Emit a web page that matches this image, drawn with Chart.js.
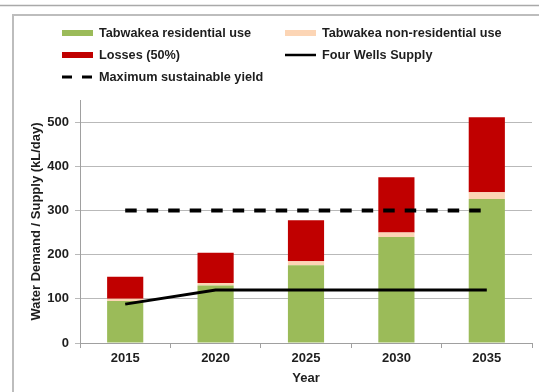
<!DOCTYPE html>
<html>
<head>
<meta charset="utf-8">
<script src="https://cdn.jsdelivr.net/npm/chart.js@4/dist/chart.umd.min.js"></script>
<style>
  html, body { margin: 0; padding: 0; background: #fff; }
  #wrap { position: relative; width: 539px; height: 392px; }
</style>
</head>
<body>
<div id="wrap"><canvas id="c" width="539" height="392"></canvas></div>
<script>
// Water demand and supply for Tabwakea (kL/day)
const years = ['2015', '2020', '2025', '2030', '2035'];
const residentialUse = [95, 130, 176, 240, 326];
const nonResidentialUse = [5, 6, 9, 10, 15];
const losses = [50, 68, 93, 125, 170];
const fourWellsSupply = [88, 120, 120, 120, 120];
const maxSustainableYield = [300, 300, 300, 300, 300];
const yTicks = [0, 100, 200, 300, 400, 500];

const FONT = "'Liberation Sans', Arial, sans-serif";
const TEXT = '#1e1e1e';

Chart.defaults.font.family = FONT;
Chart.defaults.font.weight = 'bold';
Chart.defaults.font.size = 13;
Chart.defaults.color = TEXT;

// Page frame lines around the figure
const frame = {
  id: 'frame',
  beforeDraw(chart) {
    const ctx = chart.ctx;
    ctx.save();
    ctx.fillStyle = '#fff';
    ctx.fillRect(0, 0, chart.width, chart.height);
    ctx.strokeStyle = '#a9a9a9';
    ctx.lineWidth = 1.5;
    ctx.beginPath();
    ctx.moveTo(0, 5.5); ctx.lineTo(chart.width, 5.5);
    ctx.stroke();
    ctx.strokeStyle = '#bdbdbd';
    ctx.lineWidth = 2;
    ctx.beginPath();
    ctx.moveTo(13, chart.height); ctx.lineTo(13, 15); ctx.lineTo(chart.width, 15);
    ctx.stroke();
    ctx.restore();
  }
};

// Two-column legend laid out on a fixed grid
const gridLegend = {
  id: 'gridLegend',
  afterDraw(chart, args, opts) {
    const ctx = chart.ctx;
    const cols = opts.columns, rows = opts.rows;
    chart.data.datasets.forEach((ds, i) => {
      const x = cols[i % cols.length];
      const y = rows[Math.floor(i / cols.length)];
      ctx.save();
      if (ds.type === 'line') {
        ctx.strokeStyle = ds.borderColor;
        ctx.lineWidth = ds.borderDash ? opts.dashWidth : opts.lineWidth;
        ctx.setLineDash(ds.borderDash ? opts.dash : []);
        ctx.beginPath();
        ctx.moveTo(x, y);
        ctx.lineTo(x + opts.swatchWidth, y);
        ctx.stroke();
      } else {
        ctx.fillStyle = ds.backgroundColor;
        ctx.fillRect(x, y - opts.swatchHeight / 2, opts.swatchWidth, opts.swatchHeight);
      }
      ctx.setLineDash([]);
      ctx.fillStyle = opts.color;
      ctx.font = opts.font;
      ctx.textBaseline = 'middle';
      ctx.textAlign = 'left';
      ctx.fillText(ds.label, x + opts.swatchWidth + opts.gap, y);
      ctx.restore();
    });
  }
};

new Chart(document.getElementById('c'), {
  data: {
    labels: years,
    datasets: [
      { type: 'bar', label: 'Tabwakea residential use', data: residentialUse,
        backgroundColor: '#9bbb59', stack: 'demand', order: 2 },
      { type: 'bar', label: 'Tabwakea non-residential use', data: nonResidentialUse,
        backgroundColor: '#fcd5b5', stack: 'demand', order: 2 },
      { type: 'bar', label: 'Losses (50%)', data: losses,
        backgroundColor: '#c00000', stack: 'demand', order: 2 },
      { type: 'line', label: 'Four Wells Supply', data: fourWellsSupply,
        borderColor: '#000', borderWidth: 3, pointRadius: 0, tension: 0,
        stack: 'supply', order: 0 },
      { type: 'line', label: 'Maximum sustainable yield', data: maxSustainableYield,
        borderColor: '#000', borderWidth: 4, borderDash: [11.5, 10], borderCapStyle: 'butt',
        pointRadius: 0, tension: 0, stack: 'yield', order: 0 }
    ]
  },
  options: {
    responsive: false,
    animation: false,
    devicePixelRatio: 1,
    layout: { padding: { left: 0, right: 7, top: 100, bottom: 0 } },
    datasets: { bar: { categoryPercentage: 1, barPercentage: 0.4 } },
    plugins: {
      legend: { display: false },
      tooltip: { enabled: false },
      gridLegend: {
        columns: [62, 285],
        rows: [33, 55, 77],
        swatchWidth: 31, swatchHeight: 6, gap: 6,
        lineWidth: 2.5, dashWidth: 3, dash: [10, 10],
        font: "bold 12.7px " + FONT, color: TEXT
      }
    },
    scales: {
      x: {
        stacked: true,
        grid: { display: true, drawOnChartArea: false, drawTicks: true, tickLength: 5, color: '#a0a0a0', offset: true },
        border: { color: '#a0a0a0', width: 1 },
        ticks: { padding: 3, font: { size: 13, weight: 'bold' }, color: TEXT },
        title: { display: true, text: 'Year', font: { size: 13, weight: 'bold' }, color: TEXT, padding: { top: 2, bottom: 6 } },
        afterFit(scale) { scale.height = 49; }
      },
      y: {
        stacked: true,
        min: 0, max: 550,
        grid: { color: '#b9b9b9', tickLength: 5, lineWidth: 1 },
        border: { color: '#a0a0a0', width: 1 },
        ticks: { stepSize: 100, padding: 6, font: { size: 13, weight: 'bold' }, color: TEXT },
        afterBuildTicks(scale) { scale.ticks = yTicks.map(v => ({ value: v })); },
        title: { display: true, text: 'Water Demand / Supply (kL/day)', font: { size: 13, weight: 'bold' }, color: TEXT, padding: { top: 29, bottom: 0 } },
        afterFit(scale) { scale.width = 80; }
      }
    }
  },
  plugins: [frame, gridLegend]
});
</script>
</body>
</html>
